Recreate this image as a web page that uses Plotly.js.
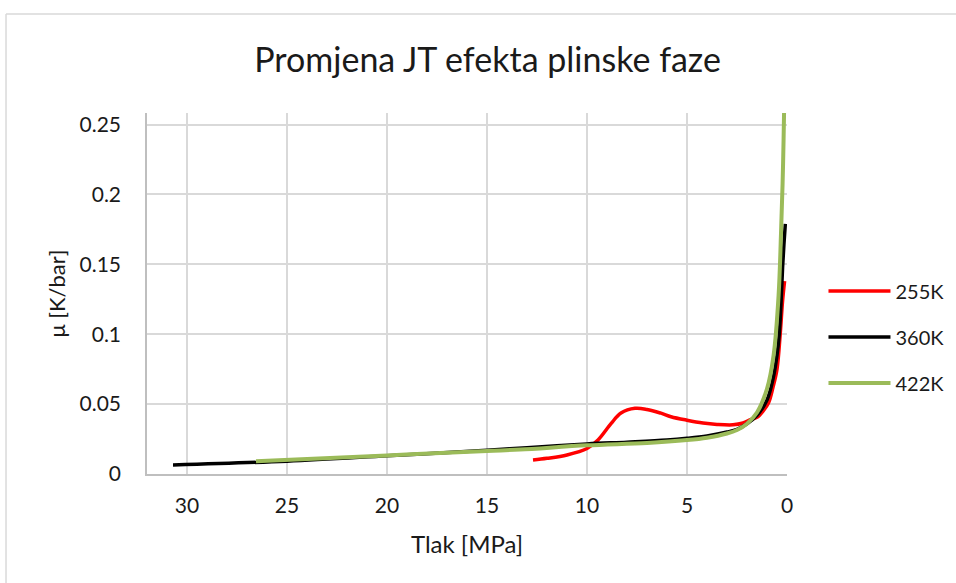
<!DOCTYPE html>
<html>
<head>
<meta charset="utf-8">
<script src="https://cdn.plot.ly/plotly-3.0.1.min.js"></script>
<style>html,body{margin:0;padding:0;background:#fff;}#chart{width:956px;height:583px;}</style>
</head>
<body>
<div id="chart"></div>
<script>
// 255K
const p255 = [12.7, 12.0, 11.0, 10.0, 9.45, 8.8, 8.3, 7.6, 7.0, 6.3, 5.8, 5.0, 4.2, 3.5, 2.7, 2.2, 1.8, 1.5, 1.2, 0.92, 0.7, 0.5, 0.34, 0.22, 0.12];
const mu255 = [0.0100, 0.0112, 0.0136, 0.0182, 0.0243, 0.0360, 0.0436, 0.0470, 0.0462, 0.0435, 0.0410, 0.0385, 0.0365, 0.0355, 0.0352, 0.0365, 0.0390, 0.0405, 0.0450, 0.0510, 0.0620, 0.0750, 0.1000, 0.1240, 0.1380];
// 360K
const p360 = [30.7, 25.0, 20.0, 15.0, 13.0, 10.0, 8.0, 6.0, 5.0, 4.0, 3.0, 2.5, 2.0, 1.5, 1.0, 0.7, 0.5, 0.39, 0.3, 0.22, 0.15, 0.084];
const mu360 = [0.0065, 0.0092, 0.0130, 0.0170, 0.0188, 0.0215, 0.0228, 0.0243, 0.0255, 0.0272, 0.0300, 0.0320, 0.0360, 0.0420, 0.0530, 0.0680, 0.0850, 0.0995, 0.1220, 0.1480, 0.1650, 0.1790];
// 422K
const p422 = [26.55, 20.0, 15.0, 13.35, 10.0, 7.0, 5.0, 4.0, 3.0, 2.5, 2.0, 1.5, 1.0, 0.67, 0.42, 0.3, 0.22, 0.17, 0.12];
const mu422 = [0.0091, 0.0133, 0.0165, 0.0175, 0.0205, 0.0222, 0.0243, 0.0260, 0.0290, 0.0315, 0.0360, 0.0440, 0.0610, 0.0850, 0.1280, 0.1720, 0.2080, 0.2400, 0.2800];

const seriesNames = ['255K', '360K', '422K'];
const xTicks = [30, 25, 20, 15, 10, 5, 0];
const yTicks = [0, 0.05, 0.1, 0.15, 0.2, 0.25];
const yTickText = ['0', '0.05', '0.1', '0.15', '0.2', '0.25'];

const FONT = 'Lato, "Open Sans", sans-serif';

const traces = [
  {x: p255, y: mu255, name: seriesNames[0], mode: 'lines', line: {color: '#ff0000', width: 3.5, shape: 'spline', smoothing: 1}, legendgroup: 'a'},
  {x: p360, y: mu360, name: seriesNames[1], mode: 'lines', line: {color: '#000000', width: 3.5, shape: 'spline', smoothing: 1}, legendgroup: 'b'},
  {x: p422, y: mu422, name: seriesNames[2], mode: 'lines', line: {color: '#9bbb59', width: 4, shape: 'spline', smoothing: 1}, legendgroup: 'c'}
];

const layout = {
  width: 956, height: 583,
  margin: {l: 147, r: 169, t: 113, b: 109, autoexpand: false},
  paper_bgcolor: '#ffffff', plot_bgcolor: '#ffffff',
  font: {family: FONT, color: '#1a1a1a'},
  title: {text: 'Promjena JT efekta plinske faze', font: {family: FONT, size: 34, color: '#1a1a1a'}, x: 0.51, xanchor: 'center', y: 0.897, yanchor: 'middle'},
  xaxis: {
    range: [32, 0], tickvals: xTicks, ticktext: xTicks.map(String),
    showgrid: true, gridcolor: '#d9d9d9', gridwidth: 1.5,
    showline: true, linecolor: '#bfbfbf', linewidth: 1.5, zeroline: false,
    ticks: '', ticklabelstandoff: 12, tickfont: {family: FONT, size: 21, color: '#1a1a1a'},
    title: {text: 'Tlak [MPa]', font: {family: FONT, size: 24, color: '#1a1a1a'}, standoff: 20}
  },
  yaxis: {
    range: [0, 0.2583], tickvals: yTicks, ticktext: yTickText,
    showgrid: true, gridcolor: '#d9d9d9', gridwidth: 1.5,
    showline: true, linecolor: '#bfbfbf', linewidth: 1.5, zeroline: false,
    ticks: '', ticklabelstandoff: 20, tickfont: {family: FONT, size: 21, color: '#1a1a1a'},
    title: {text: 'μ [K/bar]', font: {family: FONT, size: 22, color: '#1a1a1a'}, standoff: 8}
  },
  legend: {x: 1.057, xanchor: 'left', y: 0.3795, yanchor: 'middle', font: {family: FONT, size: 20, color: '#1a1a1a'}, itemwidth: 62, tracegroupgap: 17, bgcolor: 'rgba(0,0,0,0)'},
  showlegend: true,
  shapes: [
    {type: 'line', xref: 'paper', yref: 'paper', x0: -0.2203, x1: -0.2203, y0: -0.31, y1: 1.2742, line: {color: '#d9d9d9', width: 1.5}},
    {type: 'line', xref: 'paper', yref: 'paper', x0: -0.2203, x1: 1.27, y0: 1.2742, y1: 1.2742, line: {color: '#d9d9d9', width: 1.5}}
  ]
};

Plotly.newPlot('chart', traces, layout, {displayModeBar: false, responsive: false});
</script>
</body>
</html>
